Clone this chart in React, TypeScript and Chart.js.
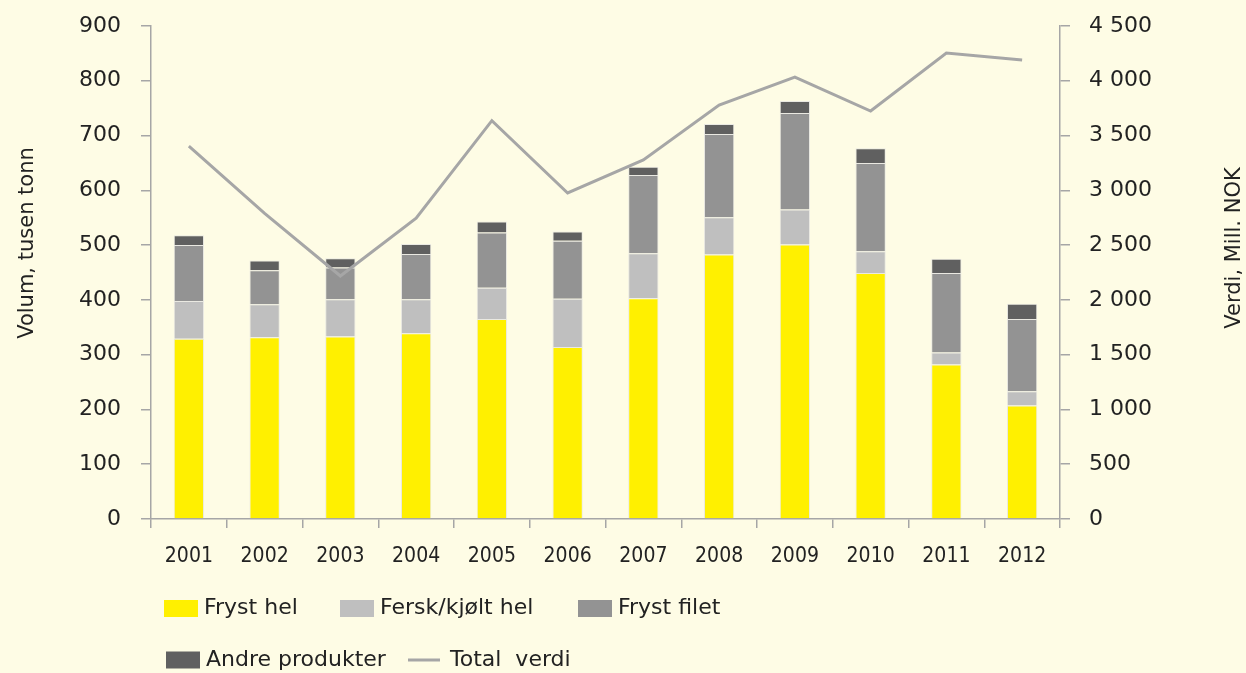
import React, { useEffect, useRef } from 'react';
import { Chart, registerables } from 'chart.js';

Chart.register(...registerables);

const years = ['2001', '2002', '2003', '2004', '2005', '2006', '2007', '2008', '2009', '2010', '2011', '2012'];
const frystHel = [329, 332, 333, 339, 365, 314, 403, 483, 501, 449, 282, 207];
const ferskKjoltHel = [69, 60, 68, 62, 57, 88, 82, 68, 64, 40, 22, 26];
const frystFilet = [102, 62, 58, 83, 101, 106, 143, 152, 176, 161, 145, 132];
const andreProdukter = [18, 18, 17, 18, 20, 17, 15, 18, 22, 27, 26, 28];
const totalVerdi = [3404, 2790, 2218, 2745, 3636, 2976, 3277, 3779, 4034, 3724, 4253, 4190];

const seriesNames = ['Fryst hel', 'Fersk/kjølt hel', 'Fryst filet', 'Andre produkter', 'Total  verdi'];
const leftTitle = 'Volum, tusen tonn';
const rightTitle = 'Verdi, Mill. NOK';

const BG = '#FEFCE5';
const TEXT = '#222222';
const AXIS = '#A6A6A6';
const colors = ['#FFF000', '#BFBFBF', '#939393', '#606060', '#A6A6A6'];

const fmt = (v: number) => {
  if (v >= 1000) {
    const th = Math.floor(v / 1000);
    const rest = String(v % 1000).padStart(3, '0');
    return `${th} ${rest}`;
  }
  return String(v);
};

const customPlugin = {
  id: 'customDecor',
  afterDraw(chart: any) {
    const ctx = chart.ctx as CanvasRenderingContext2D;
    ctx.save();
    ctx.fillStyle = TEXT;
    ctx.font = '21px "DejaVu Sans"';
    ctx.textAlign = 'center';
    ctx.textBaseline = 'middle';
    ctx.save();
    ctx.translate(27.5, 243);
    ctx.rotate(-Math.PI / 2);
    ctx.fillText(leftTitle, 0, 0);
    ctx.restore();
    ctx.save();
    ctx.translate(1235, 248);
    ctx.rotate(-Math.PI / 2);
    ctx.fillText(rightTitle, 0, 0);
    ctx.restore();

    const rows = [
      { y: 608.5, items: [0, 1, 2], xs: [164, 340, 578] },
      { y: 660, items: [3, 4], xs: [166, 407] },
    ];
    ctx.font = '22px "DejaVu Sans"';
    ctx.textAlign = 'left';
    ctx.textBaseline = 'middle';
    rows.forEach((row) => {
      row.items.forEach((di, k) => {
        const ds = chart.data.datasets[di];
        const x = row.xs[k];
        if (ds.type === 'line') {
          ctx.strokeStyle = ds.borderColor;
          ctx.lineWidth = 3;
          ctx.beginPath();
          ctx.moveTo(x + 1, row.y);
          ctx.lineTo(x + 33, row.y);
          ctx.stroke();
          ctx.fillStyle = TEXT;
          ctx.fillText(ds.label, x + 43, row.y);
        } else {
          ctx.fillStyle = ds.backgroundColor;
          ctx.fillRect(x, row.y - 8.5, 34, 17);
          ctx.fillStyle = TEXT;
          ctx.fillText(ds.label, x + 40, row.y);
        }
      });
    });
    ctx.restore();
  },
};

export default function App() {
  const canvasRef = useRef<HTMLCanvasElement | null>(null);

  useEffect(() => {
    document.body.style.margin = '0';
    document.body.style.background = BG;
    const canvas = canvasRef.current;
    if (!canvas) return;
    const barCommon = {
      type: 'bar' as const,
      yAxisID: 'y',
      stack: 'vol',
      barPercentage: 0.4,
      categoryPercentage: 1,
      borderWidth: 1,
      borderColor: 'rgba(225,225,225,0.7)',
      order: 1,
    };
    const chart = new Chart(canvas, {
      type: 'bar',
      data: {
        labels: years,
        datasets: [
          { ...barCommon, label: seriesNames[0], data: frystHel, backgroundColor: colors[0] },
          { ...barCommon, label: seriesNames[1], data: ferskKjoltHel, backgroundColor: colors[1] },
          { ...barCommon, label: seriesNames[2], data: frystFilet, backgroundColor: colors[2] },
          { ...barCommon, label: seriesNames[3], data: andreProdukter, backgroundColor: colors[3] },
          {
            type: 'line',
            label: seriesNames[4],
            data: totalVerdi,
            yAxisID: 'y1',
            borderColor: colors[4],
            backgroundColor: colors[4],
            borderWidth: 3,
            pointRadius: 0,
            tension: 0,
            fill: false,
            order: 0,
          } as any,
        ],
      },
      options: {
        responsive: false,
        animation: false,
        layout: { padding: { top: 26, bottom: 100, left: 0, right: 0 } },
        plugins: {
          legend: { display: false },
          tooltip: { enabled: false },
          title: { display: false },
        },
        scales: {
          x: {
            stacked: true,
            offset: true,
            grid: {
              display: true,
              drawOnChartArea: false,
              drawTicks: true,
              tickLength: 9,
              color: AXIS,
              lineWidth: 1.5,
              offset: true,
            },
            border: { display: true, color: AXIS, width: 1.5 },
            ticks: {
              color: TEXT,
              font: { family: '"DejaVu Sans Condensed"', size: 21 },
              padding: 16,
              maxRotation: 0,
              autoSkip: false,
            },
            afterFit: (s: any) => {
              s.height = 54;
              s.paddingLeft = 0;
              s.paddingRight = 0;
            },
          },
          y: {
            type: 'linear',
            position: 'left',
            stacked: true,
            min: 0,
            max: 900,
            grid: {
              display: true,
              drawOnChartArea: false,
              drawTicks: true,
              tickLength: 10,
              color: AXIS,
              lineWidth: 1.5,
            },
            border: { display: true, color: AXIS, width: 1.5 },
            ticks: {
              stepSize: 100,
              color: TEXT,
              font: { family: '"DejaVu Sans"', size: 22 },
              padding: 20,
            },
            afterFit: (s: any) => {
              s.width = 151;
              s.paddingTop = 0;
              s.paddingBottom = 0;
            },
          },
          y1: {
            type: 'linear',
            position: 'right',
            stacked: false,
            min: 0,
            max: 4500,
            grid: {
              display: true,
              drawOnChartArea: false,
              drawTicks: true,
              tickLength: 10,
              color: AXIS,
              lineWidth: 1.5,
            },
            border: { display: true, color: AXIS, width: 1.5 },
            ticks: {
              stepSize: 500,
              color: TEXT,
              font: { family: '"DejaVu Sans"', size: 22 },
              padding: 19,
              callback: (v: any) => fmt(Number(v)),
            },
            afterFit: (s: any) => {
              s.width = 186;
              s.paddingTop = 0;
              s.paddingBottom = 0;
            },
          },
        },
      },
      plugins: [customPlugin],
    });
    return () => chart.destroy();
  }, []);

  return (
    <div style={{ width: 1246, height: 673, background: BG }}>
      <canvas ref={canvasRef} width={1246} height={673} style={{ display: 'block', width: 1246, height: 673 }} />
    </div>
  );
}
